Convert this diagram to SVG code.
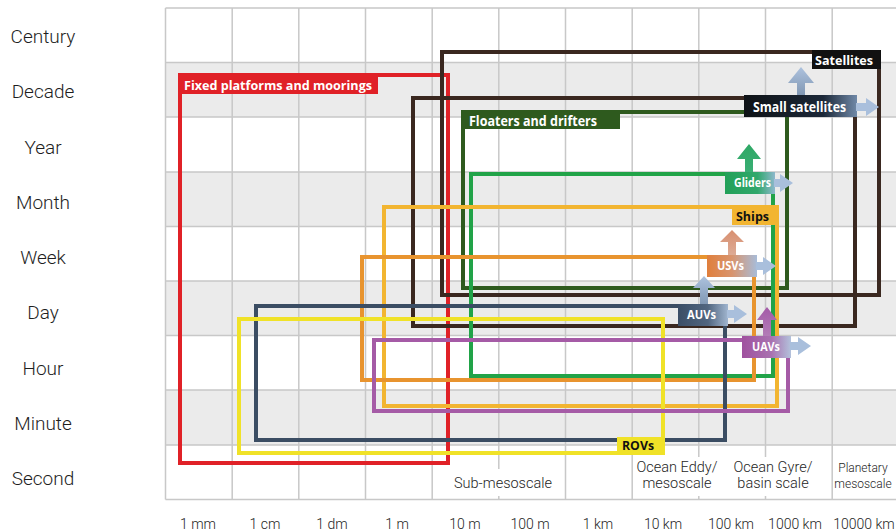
<svg xmlns="http://www.w3.org/2000/svg" width="896" height="532" viewBox="0 0 896 532">
<style>
.axis{font-family:Roboto,"Liberation Sans",sans-serif;font-weight:300;font-size:19px;fill:#1e1e1e;text-anchor:middle}
.scale{font-family:Roboto,"Liberation Sans",sans-serif;font-weight:300;font-size:14px;fill:#1e1e1e;text-anchor:middle}
.cat{font-family:Roboto,"Liberation Sans",sans-serif;font-weight:300;font-size:14.5px;fill:#1e1e1e;text-anchor:middle}
.catsm{font-family:Roboto,"Liberation Sans",sans-serif;font-weight:300;font-size:12px;fill:#1e1e1e;text-anchor:middle}
.lbl{font-family:"Open Sans","Liberation Sans",sans-serif;font-weight:700;fill:#fff}
.lbk{font-family:"Open Sans","Liberation Sans",sans-serif;font-weight:700;fill:#111}
.frame{fill:none;stroke-width:4}
.grid{fill:none;stroke:#c8c8c8;stroke-width:1.5}
</style>
<defs>
<linearGradient id="gSmall" x1="0" y1="0" x2="1" y2="0"><stop offset="0" stop-color="#0e1216"/><stop offset="0.7" stop-color="#1c2838"/><stop offset="1" stop-color="#7089a8"/></linearGradient>
<linearGradient id="gGliders" x1="0" y1="0" x2="1" y2="0"><stop offset="0" stop-color="#22a058"/><stop offset="0.65" stop-color="#31a86c"/><stop offset="1" stop-color="#8db8cc"/></linearGradient>
<linearGradient id="gUSVs" x1="0" y1="0" x2="1" y2="0"><stop offset="0" stop-color="#e07f3c"/><stop offset="0.5" stop-color="#d8946e"/><stop offset="1" stop-color="#a8bcd8"/></linearGradient>
<linearGradient id="gAUVs" x1="0" y1="0" x2="1" y2="0"><stop offset="0" stop-color="#3b4e66"/><stop offset="0.6" stop-color="#516680"/><stop offset="1" stop-color="#a0b5cf"/></linearGradient>
<linearGradient id="gUAVs" x1="0" y1="0" x2="1" y2="0"><stop offset="0" stop-color="#a0519f"/><stop offset="0.6" stop-color="#a972b0"/><stop offset="1" stop-color="#b3c2dc"/></linearGradient>
<linearGradient id="uBlue" x1="0" y1="0" x2="0" y2="1"><stop offset="0" stop-color="#adc2de"/><stop offset="1" stop-color="#8198b4"/></linearGradient>
<linearGradient id="uGreen" x1="0" y1="0" x2="0" y2="1"><stop offset="0" stop-color="#2ea865"/><stop offset="1" stop-color="#3aae74"/></linearGradient>
<linearGradient id="uSalmon" x1="0" y1="0" x2="0" y2="1"><stop offset="0" stop-color="#d88f70"/><stop offset="1" stop-color="#ddab95"/></linearGradient>
<linearGradient id="uPurple" x1="0" y1="0" x2="0" y2="1"><stop offset="0" stop-color="#a45aa8"/><stop offset="1" stop-color="#b27cb6"/></linearGradient>
</defs>
<rect x="0" y="0" width="896" height="532" fill="#fff"/>
<g id="grid">
<rect x="165.5" y="62.5" width="731" height="54.5" fill="#ebebeb"/>
<rect x="165.5" y="172" width="731" height="54.5" fill="#ebebeb"/>
<rect x="165.5" y="281" width="731" height="54.5" fill="#ebebeb"/>
<rect x="165.5" y="390" width="731" height="55" fill="#ebebeb"/>
<path class="grid" d="M165.5,8H896M165.5,62.5H896M165.5,117H896M165.5,172H896M165.5,226.5H896M165.5,281H896M165.5,335.5H896M165.5,390H896M165.5,445H896M165.5,499.5H896M165.5,8V499.5M232.2,8V499.5M298.8,8V499.5M365.5,8V499.5M432.2,8V499.5M498.8,8V499.5M565.5,8V499.5M632.2,8V499.5M698.8,8V499.5M765.5,8V499.5M832.2,8V499.5"/>
<rect x="452" y="469" width="102" height="27" fill="#fff"/>
<rect x="636" y="457" width="83" height="39" fill="#fff"/>
<rect x="731" y="457" width="84" height="39" fill="#fff"/>
</g>
<g id="time-axis">
<text class="axis" x="43" y="43">Century</text>
<text class="axis" x="43" y="98">Decade</text>
<text class="axis" x="43" y="154">Year</text>
<text class="axis" x="43" y="209">Month</text>
<text class="axis" x="43" y="264">Week</text>
<text class="axis" x="43" y="319">Day</text>
<text class="axis" x="43" y="375">Hour</text>
<text class="axis" x="43" y="430">Minute</text>
<text class="axis" x="43" y="485">Second</text>
</g>
<g id="space-axis">
<text class="scale" x="198" y="529">1 mm</text>
<text class="scale" x="265" y="529">1 cm</text>
<text class="scale" x="332" y="529">1 dm</text>
<text class="scale" x="397" y="529">1 m</text>
<text class="scale" x="465" y="529">10 m</text>
<text class="scale" x="530" y="529">100 m</text>
<text class="scale" x="598" y="529">1 km</text>
<text class="scale" x="663" y="529">10 km</text>
<text class="scale" x="731" y="529">100 km</text>
<text class="scale" x="795" y="529">1000 km</text>
<text class="scale" x="864" y="529">10000 km</text>
</g>
<g id="scale-categories">
<text class="cat" x="503" y="488">Sub-mesoscale</text>
<text class="cat" x="677" y="472">Ocean Eddy/</text>
<text class="cat" x="677" y="488">mesoscale</text>
<text class="cat" x="773" y="472">Ocean Gyre/</text>
<text class="cat" x="773" y="488">basin scale</text>
<text class="catsm" x="863" y="472">Planetary</text>
<text class="catsm" x="863" y="488">mesoscale</text>
</g>
<g id="fixed-platforms">
<rect class="frame" x="180" y="75" width="268" height="388" stroke="#e02127"/>
<rect x="178" y="73" width="200" height="21" fill="#e02127"/>
<text class="lbl" x="184" y="90" font-size="13" textLength="188" lengthAdjust="spacingAndGlyphs">Fixed platforms and moorings</text>
</g>
<g id="floaters-drifters">
<rect class="frame" x="463" y="112" width="324" height="176" stroke="#2e5a1e"/>
<rect x="461" y="110" width="159" height="19" fill="#2e5a1e"/>
<text class="lbl" x="469" y="126" font-size="13.5" textLength="128" lengthAdjust="spacingAndGlyphs">Floaters and drifters</text>
</g>
<g id="satellites">
<rect class="frame" x="442" y="52" width="437" height="243" stroke="#3a2820" stroke-width="3.5"/>
<rect x="812" y="50" width="69" height="19" fill="#111"/>
<text class="lbl" x="815" y="65" font-size="13" textLength="58" lengthAdjust="spacingAndGlyphs">Satellites</text>
</g>
<g id="small-satellites">
<rect class="frame" x="413" y="98" width="442" height="228" stroke="#3a2820" stroke-width="3.5"/>
<rect x="744" y="95" width="113" height="22" fill="url(#gSmall)"/>
<text class="lbl" x="753" y="112" font-size="14" textLength="93" lengthAdjust="spacingAndGlyphs">Small satellites</text>
</g>
<g id="gliders">
<rect class="frame" x="471" y="174" width="302" height="202" stroke="#21a348"/>
<rect x="725" y="172" width="50" height="22" fill="url(#gGliders)"/>
<text class="lbl" x="734" y="187" font-size="11.5" textLength="37" lengthAdjust="spacingAndGlyphs">Gliders</text>
</g>
<g id="ships">
<rect class="frame" x="384" y="207" width="393" height="199" stroke="#f2b531"/>
<rect x="732" y="205" width="47" height="20" fill="#f2b531"/>
<text class="lbk" x="736" y="221" font-size="13" textLength="33" lengthAdjust="spacingAndGlyphs">Ships</text>
</g>
<g id="usvs">
<rect class="frame" x="362" y="257" width="392" height="123" stroke="#e8942f"/>
<rect x="707" y="255" width="50" height="22" fill="url(#gUSVs)"/>
<text class="lbl" x="717" y="270" font-size="12" textLength="27" lengthAdjust="spacingAndGlyphs">USVs</text>
</g>
<g id="auvs">
<rect class="frame" x="256" y="306" width="469" height="134" stroke="#3b4d63"/>
<rect x="678" y="304" width="50" height="22" fill="url(#gAUVs)"/>
<text class="lbl" x="687" y="319" font-size="12.5" textLength="29" lengthAdjust="spacingAndGlyphs">AUVs</text>
</g>
<g id="rovs">
<rect class="frame" x="239" y="319" width="424" height="134" stroke="#f0e228"/>
<rect x="617" y="437" width="48" height="18" fill="#f0e228"/>
<text class="lbk" x="622" y="450" font-size="12" textLength="32" lengthAdjust="spacingAndGlyphs">ROVs</text>
</g>
<g id="uavs">
<rect class="frame" x="374" y="340" width="414" height="71" stroke="#a55ba6"/>
<rect x="742" y="336" width="49" height="22" fill="url(#gUAVs)"/>
<text class="lbl" x="752" y="351" font-size="12" textLength="28" lengthAdjust="spacingAndGlyphs">UAVs</text>
</g>
<g id="connectors">
<path d="M797,95V83H788L801,67L814,83H805V95Z" fill="url(#uBlue)"/>
<path d="M856,103H866V98L879,107L866,116V111H856Z" fill="#a9bfdc"/>
<path d="M745,172V159H737L749,144L761,159H753V172Z" fill="url(#uGreen)"/>
<path d="M774,179H780V174L793,183L780,192V187H774Z" fill="#a9bfdc"/>
<path d="M728,255V242H720L732,230L744,242H736V255Z" fill="url(#uSalmon)"/>
<path d="M756,262H763V257L776,266L763,275V270H756Z" fill="#a9bfdc"/>
<path d="M700,304V288H693L704,276L715,288H708V304Z" fill="url(#uBlue)"/>
<path d="M727,310H734V305L747,314L734,323V318H727Z" fill="#a9bfdc"/>
<path d="M763,336V320H757L767,307L777,320H771V336Z" fill="url(#uPurple)"/>
<path d="M790,342H798V337L811,346L798,355V350H790Z" fill="#a9bfdc"/>
</g>
</svg>
